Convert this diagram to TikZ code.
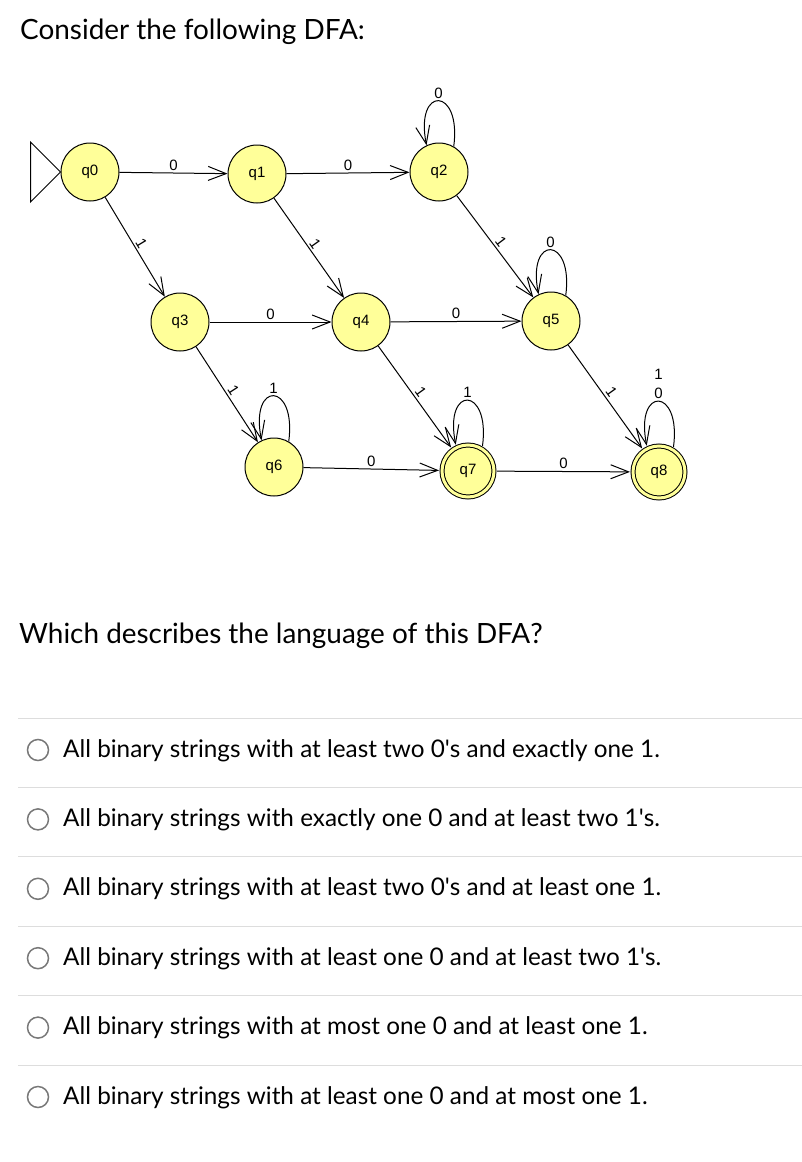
\documentclass[tikz,border=0pt]{standalone}
\usepackage{fontspec}
\setmainfont{Lato}
\newfontfamily\arialfont{Liberation Sans}
\usetikzlibrary{arrows.meta}
\definecolor{stateyellow}{RGB}{255,255,153}
\definecolor{rulegray}{RGB}{221,221,221}
\definecolor{radiogray}{RGB}{120,120,120}

\begin{document}
\begin{tikzpicture}[x=1pt, y=-1pt,
  state/.style={circle, draw, fill=stateyellow, line width=1pt, minimum size=58pt, inner sep=0pt, font=\arialfont\fontsize{15}{17}\selectfont},
  accept/.style={state, minimum size=52pt, double=stateyellow, double distance=3pt, outer sep=3pt},
  trans/.style={line width=1pt, -{Straight Barb[length=18pt, width=14pt, line width=1pt]}},
  lab/.style={font=\arialfont\fontsize{15}{19}\selectfont, inner sep=2pt},
  option/.style={anchor=base west, font=\fontsize{24.3}{29}\selectfont, inner sep=0pt},
  radio/.style={circle, draw=radiogray, line width=1.5pt, minimum size=21pt, inner sep=0pt}]
  \useasboundingbox (0,0) rectangle (802,1162);

  \node[anchor=base west, inner sep=0pt, font=\fontsize{27.9}{33}\selectfont] (title) at (20,39) {Consider the following DFA:};

  % states
  \node[state] (q0) at (90,172) {q0};
  \node[state] (q1) at (257,174) {q1};
  \node[state] (q2) at (439,172) {q2};
  \node[state] (q3) at (180,322) {q3};
  \node[state] (q4) at (361,322) {q4};
  \node[state] (q5) at (551,321) {q5};
  \node[state] (q6) at (274,467) {q6};
  \node[accept] (q7) at (468,471) {q7};
  \node[accept] (q8) at (659,472) {q8};

  % start marker
  \draw[line width=1pt] (q0.west) -- ++(-30,-30) -- ++(0,60) -- cycle;

  % transitions
  \draw[trans] (q0) -- node[lab, above] {0} (q1);
  \draw[trans] (q1) -- node[lab, above] {0} (q2);
  \draw[trans] (q3) -- node[lab, above] {0} (q4);
  \draw[trans] (q4) -- node[lab, above] {0} (q5);
  \draw[trans] (q6) -- node[lab, above] {0} (q7);
  \draw[trans] (q7) -- node[lab, above] {0} (q8);
  \draw[trans] (q0) -- node[lab, above, sloped] {1} (q3);
  \draw[trans] (q1) -- node[lab, above, sloped] {1} (q4);
  \draw[trans] (q2) -- node[lab, above, sloped] {1} (q5);
  \draw[trans] (q3) -- node[lab, above, sloped] {1} (q6);
  \draw[trans] (q4) -- node[lab, above, sloped] {1} (q7);
  \draw[trans] (q5) -- node[lab, above, sloped] {1} (q8);

  % self loops
  \draw[trans] (q2.60) .. controls +(8,-60) and +(-12,-60) .. node[lab, above] {0} (q2.115);
  \draw[trans] (q5.60) .. controls +(8,-60) and +(-12,-60) .. node[lab, above] {0} (q5.115);
  \draw[trans] (q6.60) .. controls +(8,-60) and +(-12,-60) .. node[lab, above] {1} (q6.115);
  \draw[trans] (q7.60) .. controls +(8,-60) and +(-12,-60) .. node[lab, above] {1} (q7.115);
  \draw[trans] (q8.60) .. controls +(8,-60) and +(-12,-60) .. node[lab, above, align=center] {1\\0} (q8.115);

  \node[anchor=base west, inner sep=0pt, font=\fontsize{27.9}{33}\selectfont] (question) at (19,643) {Which describes the language of this DFA?};

  % answer options
  \foreach \y/\txt [count=\i] in {
      757/{All binary strings with at least two 0\textquotesingle s and exactly one 1.},
      826.4/{All binary strings with exactly one 0 and at least two 1\textquotesingle s.},
      895.8/{All binary strings with at least two 0\textquotesingle s and at least one 1.},
      965.2/{All binary strings with at least one 0 and at least two 1\textquotesingle s.},
      1034.6/{All binary strings with at most one 0 and at least one 1.},
      1104/{All binary strings with at least one 0 and at most one 1.}} {
    \draw[rulegray, line width=1pt] (18,\y-39) -- (802,\y-39);
    \node[radio] (radio\i) at (38,\y-7) {};
    \node[option] (opt\i) at (63,\y) {\txt};
  }
\end{tikzpicture}
\end{document}
